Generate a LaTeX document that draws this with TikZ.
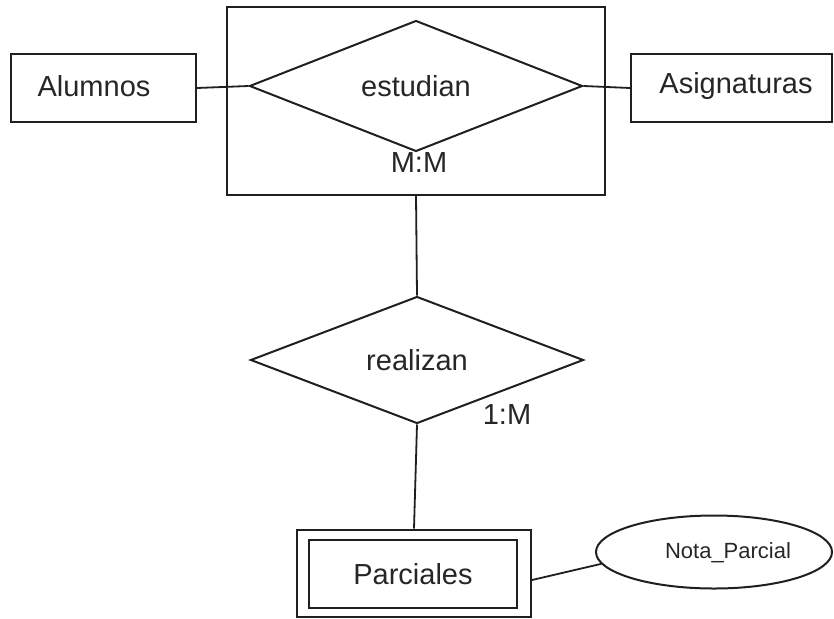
\documentclass[tikz,border=0pt]{standalone}
\usepackage{fontspec}
\setmainfont{Liberation Sans}
\usetikzlibrary{shapes.geometric}
\begin{document}
\begin{tikzpicture}[x=1pt,y=-1pt,
  ink/.style={draw=black!88, line width=2pt},
  link/.style={draw=black!88, line width=1.8pt},
  lbl/.style={text=black!85, font=\fontsize{29}{33}\selectfont, inner sep=0pt},
  entity/.style={ink, rectangle, inner sep=0pt, minimum width=#1, minimum height=68pt},
  rel/.style={ink, diamond, inner sep=0pt, minimum width=333pt, minimum height=127pt, lbl}]
\useasboundingbox (0,0) rectangle (834,618);

% entities
\node[entity=185pt] (alu) at (103.5,88) {};
\node[lbl] (alut) at (94,86) {Alumnos};
\node[entity=201pt] (asi) at (731.5,88) {};
\node[lbl] (asit) at (736,86) {Asignaturas};

% aggregation around the M:M relationship
\node[ink, rectangle, minimum width=378pt, minimum height=188pt, inner sep=0pt] (agg) at (416,101) {};
\node[rel] (est) at (416,86) {estudian};
\node[lbl] (mm) at (419,163) {M:M};

% relationship with the weak entity
\node[rel] (rea) at (417,360) {realizan};
\node[lbl] (om) at (507,415) {1:M};

% weak entity (double box) and its attribute
\node[ink, rectangle, minimum width=234pt, minimum height=87pt, inner sep=0pt] (parout) at (414,573) {};
\node[ink, rectangle, minimum width=208pt, minimum height=68pt, lbl] (par) at (413,574) {Parciales};
\node[ink, ellipse, minimum width=236pt, minimum height=73pt, inner sep=0pt] (nota) at (714,552) {};
\node[lbl, font=\fontsize{22}{26}\selectfont] (notat) at (728,553) {Nota\_Parcial};

% connectors
\draw[link] (alu.east) -- (est.west);
\draw[link] (est.east) -- (asi.west);
\draw[link] (agg.south) -- (rea.north);
\draw[link] (rea.south) -- (parout.north);
\draw[link] ([yshift=-7pt]parout.east) -- (nota.186);
\end{tikzpicture}
\end{document}
